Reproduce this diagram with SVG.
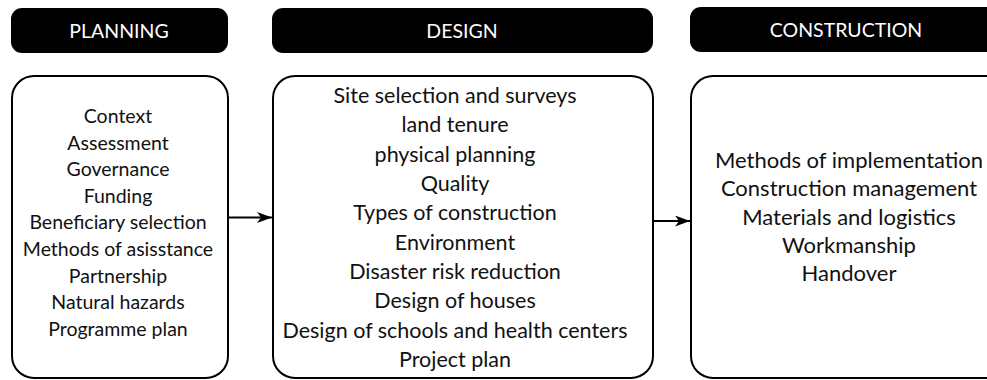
<svg xmlns="http://www.w3.org/2000/svg" width="987" height="380" viewBox="0 0 987 380">
<style>
.hdr{fill:#000;}
.hdrtxt{fill:#fff;font-family:Lato,"Open Sans",sans-serif;font-size:19.5px;text-anchor:middle;}
.box{fill:#fff;stroke:#000;stroke-width:2;}
.t1{fill:#111;font-family:Lato,"Open Sans",sans-serif;font-size:19.5px;text-anchor:middle;}
.t2{fill:#111;font-family:Lato,"Open Sans",sans-serif;font-size:21.5px;text-anchor:middle;}
.t3{fill:#111;font-family:Lato,"Open Sans",sans-serif;font-size:22px;text-anchor:middle;}
.conn{stroke:#000;stroke-width:2.2;fill:none;}
</style>
<defs>
<marker id="ah" markerUnits="userSpaceOnUse" markerWidth="16" markerHeight="12" refX="15" refY="5.5" orient="auto">
<path d="M0,0 L15,5.5 L0,11 L4,5.5 Z" fill="#000"/>
</marker>
</defs>
<rect width="987" height="380" fill="#fff"/>
<g id="planning">
<rect class="hdr" x="11" y="8" width="217" height="45" rx="11"/>
<text class="hdrtxt" x="119" y="38">PLANNING</text>
<rect class="box" x="12" y="76" width="216" height="302" rx="22"/>
<text class="t1" x="118" y="123">Context</text>
<text class="t1" x="118" y="149.6">Assessment</text>
<text class="t1" x="118" y="176.2">Governance</text>
<text class="t1" x="118" y="202.8">Funding</text>
<text class="t1" x="118" y="229.4">Beneficiary selection</text>
<text class="t1" x="118" y="256">Methods of asisstance</text>
<text class="t1" x="118" y="282.6">Partnership</text>
<text class="t1" x="118" y="309.2">Natural hazards</text>
<text class="t1" x="118" y="335.8">Programme plan</text>
</g>
<g id="design">
<rect class="hdr" x="272" y="8" width="381" height="45" rx="11"/>
<text class="hdrtxt" x="462" y="38">DESIGN</text>
<rect class="box" x="273" y="76" width="380" height="302" rx="22"/>
<text class="t2" x="455" y="103">Site selection and surveys</text>
<text class="t2" x="455" y="132.3">land tenure</text>
<text class="t2" x="455" y="161.7">physical planning</text>
<text class="t2" x="455" y="191">Quality</text>
<text class="t2" x="455" y="220.3">Types of construction</text>
<text class="t2" x="455" y="249.7">Environment</text>
<text class="t2" x="455" y="279">Disaster risk reduction</text>
<text class="t2" x="455" y="308.3">Design of houses</text>
<text class="t2" x="455" y="337.7">Design of schools and health centers</text>
<text class="t2" x="455" y="367">Project plan</text>
</g>
<g id="construction">
<rect class="hdr" x="690" y="7" width="314" height="45" rx="11"/>
<text class="hdrtxt" x="846" y="37">CONSTRUCTION</text>
<rect class="box" x="691" y="76" width="316" height="302" rx="22"/>
<text class="t3" x="849" y="168">Methods of implementation</text>
<text class="t3" x="849" y="196.3">Construction management</text>
<text class="t3" x="849" y="224.5">Materials and logistics</text>
<text class="t3" x="849" y="252.8">Workmanship</text>
<text class="t3" x="849" y="281">Handover</text>
</g>
<g id="connectors">
<line class="conn" x1="229" y1="217.5" x2="272" y2="217.5" marker-end="url(#ah)"/>
<line class="conn" x1="653" y1="221" x2="690" y2="221" marker-end="url(#ah)"/>
</g>
</svg>
